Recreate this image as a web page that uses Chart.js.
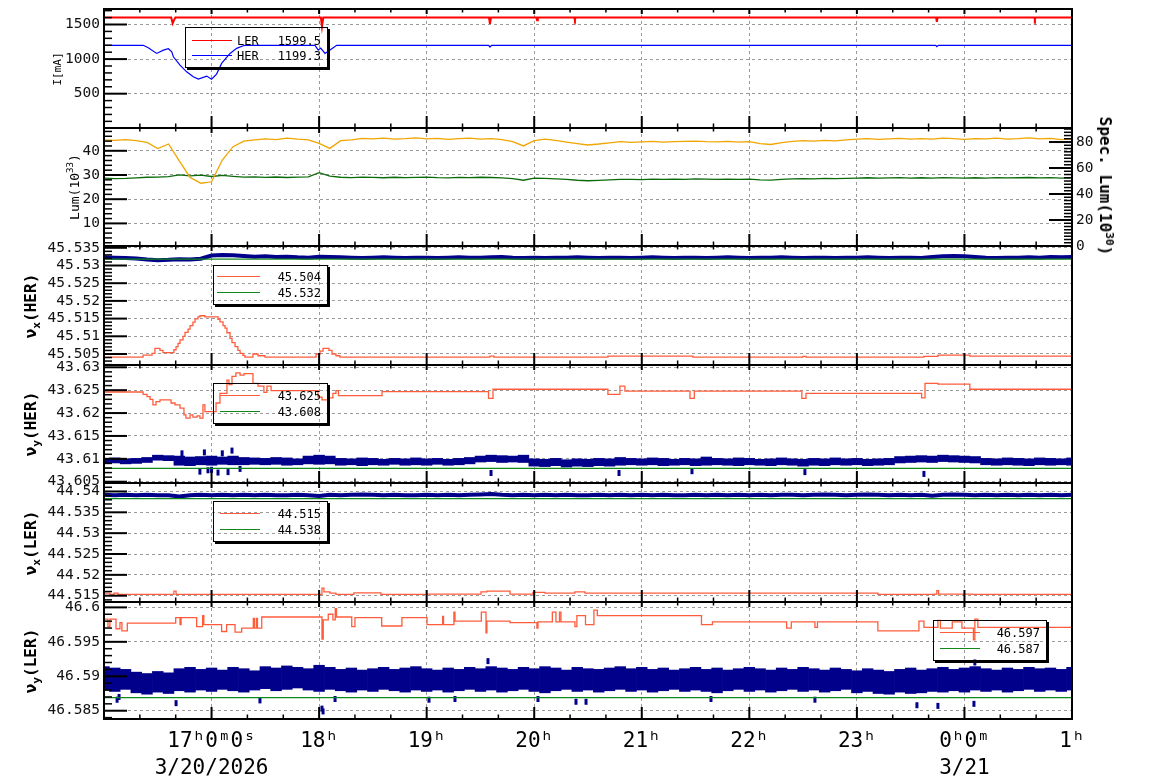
<!DOCTYPE html>
<html>
<head>
<meta charset="utf-8">
<script src="https://cdn.jsdelivr.net/npm/chart.js@4.4.1/dist/chart.umd.min.js"></script>
<style>
  body { margin: 0; background: #fff; }
  #page { position: relative; width: 1154px; height: 782px; overflow: hidden; font-family: 'DejaVu Sans Mono', monospace; }
  canvas { position: absolute; left: 0; }
  .ttl { position: absolute; white-space: nowrap; line-height: 1; color: #000; transform: translate(-50%, -50%) rotate(-90deg); }
  .ttl.b { font-weight: bold; font-size: 16px; }
  .ttl.r { transform: translate(-50%, -50%) rotate(90deg); }
  sup, sub { font-size: 70%; line-height: 0; }
  .leg { position: absolute; box-sizing: border-box; border: 1px solid #000; box-shadow: 2px 2px 0 #000; font-size: 12px; color: #000; }
  .leg i { position: absolute; height: 0; border-top-width: 1px; border-top-style: solid; }
  .leg span { position: absolute; line-height: 14px; margin-top: -7px; white-space: nowrap; }
</style>
</head>
<body>
<div id="page">
  <div id="plots"></div>

  <div class="ttl" style="left:57px;top:68.5px;font-size:11px">I[mA]</div>
  <div class="ttl" style="left:74px;top:187px;font-size:13px">Lum(10<sup>33</sup>)</div>
  <div class="ttl r b" style="left:1105px;top:186px">Spec. Lum(10<sup>30</sup>)</div>
  <div class="ttl b" style="left:31px;top:305.5px">ν<sub>x</sub>(HER)</div>
  <div class="ttl b" style="left:31px;top:424px">ν<sub>y</sub>(HER)</div>
  <div class="ttl b" style="left:31px;top:542.5px">ν<sub>x</sub>(LER)</div>
  <div class="ttl b" style="left:31px;top:660.5px">ν<sub>y</sub>(LER)</div>

  <div class="leg" style="left:185px;top:27px;width:143px;height:41px">
    <i style="left:6px;width:40px;top:12px;border-top-color:#ff0000"></i>
    <span style="left:51px;top:13px">LER</span><span style="right:6px;top:13px">1599.5</span>
    <i style="left:6px;width:40px;top:27px;border-top-color:#0000ff"></i>
    <span style="left:51px;top:28px">HER</span><span style="right:6px;top:28px">1199.3</span>
  </div>
  <div class="leg" style="left:213px;top:265px;width:115px;height:40px">
    <i style="left:3px;width:43px;top:10px;border-top-color:#ff5c3c"></i><span style="right:6px;top:11px">45.504</span>
    <i style="left:3px;width:43px;top:26px;border-top-color:#12881a"></i><span style="right:6px;top:27px">45.532</span>
  </div>
  <div class="leg" style="left:213px;top:383px;width:115px;height:41px">
    <i style="left:6px;width:40px;top:11px;border-top-color:#ff5c3c"></i><span style="right:6px;top:12px">43.625</span>
    <i style="left:6px;width:40px;top:27px;border-top-color:#12881a"></i><span style="right:6px;top:28px">43.608</span>
  </div>
  <div class="leg" style="left:213px;top:501px;width:115px;height:41px">
    <i style="left:6px;width:40px;top:11px;border-top-color:#ff5c3c"></i><span style="right:6px;top:12px">44.515</span>
    <i style="left:6px;width:40px;top:27px;border-top-color:#12881a"></i><span style="right:6px;top:28px">44.538</span>
  </div>
  <div class="leg" style="left:933px;top:620px;width:114px;height:41px">
    <i style="left:6px;width:40px;top:11px;border-top-color:#ff5c3c"></i><span style="right:6px;top:12px">46.597</span>
    <i style="left:6px;width:40px;top:27px;border-top-color:#12881a"></i><span style="right:6px;top:28px">46.587</span>
  </div>
</div>

<script>
// time in minutes since 16:00 on 3/20/2026
const minutes = [0,6,12,18,24,30,36,42,48,54,60,66,72,78,84,90,96,102,108,114,120,126,132,138,144,150,156,162,168,174,180,186,192,198,204,210,216,222,228,234,240,246,252,258,264,270,276,282,288,294,300,306,312,318,324,330,336,342,348,354,360,366,372,378,384,390,396,402,408,414,420,426,432,438,444,450,456,462,468,474,480,486,492,498,504,510,516,522,528,534,540];
const edgeT = [0, 540];
const xTickLabels = ['', ['17ʰ0ᵐ0ˢ', '3/20/2026'], '18ʰ', '19ʰ', '20ʰ', '21ʰ', '22ʰ', '23ʰ', ['0ʰ0ᵐ', '3/21'], '1ʰ'];

// y tick values per panel
const curTicks = [500, 1000, 1500];
const lumTicks = [10, 20, 30, 40];
const specLumTicks = [0, 20, 40, 60, 80];
const nuxHerTicks = [45.505, 45.51, 45.515, 45.52, 45.525, 45.53, 45.535];
const nuyHerTicks = [43.605, 43.61, 43.615, 43.62, 43.625, 43.63];
const nuxLerTicks = [44.515, 44.52, 44.525, 44.53, 44.535, 44.54];
const nuyLerTicks = [46.585, 46.59, 46.595, 46.6];

// beam currents [mA]
const lerCurT = [0, 37.5, 38.3, 39.0, 39.8, 121.0, 121.6, 122.3, 214.8, 215.3, 215.9, 241.2, 241.6, 242.0, 262.3, 262.7, 263.1, 464.2, 464.6, 465.0, 519.0, 519.3, 519.6, 540];
const lerCurV = [1599.5, 1599.5, 1517, 1560, 1599.5, 1599.5, 1470, 1599.5, 1599.5, 1510, 1599.5, 1599.5, 1560, 1599.5, 1599.5, 1570, 1599.5, 1599.5, 1540, 1599.5, 1599.5, 1575, 1599.5, 1599.5];
const herCurT = [0, 21.9, 24.7, 29.4, 33.1, 35.9, 37.8, 38.7, 42.4, 46.1, 49.8, 52.6, 57.3, 60.0, 62.8, 65.6, 70.3, 74.0, 77.7, 78.7, 117.7, 119.5, 120.9, 123.3, 126.1, 129.8, 214.6, 215.3, 216.2, 464.0, 464.6, 465.4, 540];
const herCurV = [1199.3, 1199.3, 1164, 1082, 1130, 1150, 1106, 1033, 913, 816, 744, 710, 754, 710, 783, 937, 1082, 1155, 1193, 1199.3, 1199.3, 1130, 1160, 1082, 1130, 1199.3, 1199.3, 1175, 1199.3, 1199.3, 1180, 1199.3, 1199.3];

// luminosity (1e33) and specific luminosity (1e30)
const lum = [44.5,44.3,44.6,44.2,43.5,40.9,42.8,35.8,29.0,26.6, 27.2,36.2,41.7,44.0,44.5,44.9,44.6,45.2,44.8,44.5, 43.1,41.0,44.2,44.5,45.1,44.9,45.2,44.8,45.0,45.3, 44.9,45.1,44.7,45.0,45.2,44.8,45.0,44.6,43.8,42.0, 44.2,44.8,44.3,43.6,43.0,42.4,42.8,43.3,43.8,43.5, 43.7,43.9,43.6,43.8,43.9,44.0,43.8,43.7,43.9,43.6, 43.8,43.0,42.6,43.4,43.9,44.2,44.0,44.3,44.1,44.5, 44.8,45.0,44.7,44.9,45.1,44.8,45.0,44.8,45.2,45.0, 44.7,45.0,44.9,45.2,44.8,45.0,45.3,44.9,45.1,44.6,44.9];
const specLum = [52.2,51.8,52.0,52.4,52.9,53.0,53.4,54.8,54.0,54.6, 53.5,54.3,53.6,53.0,53.2,52.8,53.1,52.7,53.0,53.2, 56.5,53.8,52.9,52.6,53.0,52.8,52.5,52.9,52.6,52.8, 53.0,52.6,52.4,52.8,52.6,52.9,52.7,52.4,51.8,50.6, 52.3,52.0,51.6,51.2,50.6,50.2,50.5,50.9,51.3,51.2, 51.0,51.4,51.2,51.5,51.3,51.6,51.4,51.2,51.5,51.3, 51.4,50.9,50.7,51.2,51.6,51.8,51.6,52.0,51.8,52.1, 52.3,52.5,52.2,52.4,52.6,52.3,52.5,52.2,52.6,52.4, 52.2,52.5,52.3,52.6,52.4,52.5,52.7,52.4,52.6,52.3,52.5];

// HER horizontal tune
const nuxHerMeas = [45.5323,45.5322,45.5321,45.5320,45.5317,45.5315,45.5316,45.5318,45.5317,45.5319, 45.5328,45.5330,45.5329,45.5327,45.5325,45.5326,45.5324,45.5325,45.5323,45.5322, 45.5325,45.5324,45.5323,45.5322,45.5321,45.5322,45.5323,45.5322,45.5321,45.5322, 45.5322,45.5321,45.5322,45.5323,45.5322,45.5322,45.5323,45.5324,45.5322,45.5321, 45.5322,45.5321,45.5322,45.5322,45.5323,45.5322,45.5321,45.5322,45.5322,45.5321, 45.5322,45.5323,45.5322,45.5321,45.5322,45.5322,45.5321,45.5322,45.5323,45.5322, 45.5321,45.5322,45.5322,45.5323,45.5322,45.5321,45.5322,45.5322,45.5321,45.5322, 45.5322,45.5323,45.5322,45.5321,45.5322,45.5322,45.5321,45.5324,45.5326,45.5327, 45.5326,45.5324,45.5322,45.5321,45.5322,45.5322,45.5323,45.5322,45.5324,45.5323,45.5324];
const nuxHerRef = [45.5318, 45.5318];
const nuxHerSetT = [0,21.8,26.8,28.4,31.2,32.9, 39.0,40.2,41.3,42.4,44.1, 45.2,46.9,48.0,49.6,50.8, 52.4,53.5,56.3,63.6,64.7, 66.4,67.5,68.6,70.3,71.4, 73.1,74.7,75.9,77.5,78.6, 83.1,85.9,89.8,118.3,120.5, 122.2,125.5,127.2,129.4,131.6, 215.3,217.5,281.1,328.5,389.9, 391.6,457.4,465.2,483.0,540];
const nuxHerSetV = [45.5041,45.5047,45.5052,45.5066,45.5060,45.5054, 45.5062,45.5071,45.5080,45.5090,45.5100, 45.5111,45.5120,45.5130,45.5140,45.5149, 45.5155,45.5158,45.5155,45.5148,45.5141, 45.5130,45.5123,45.5110,45.5094,45.5082, 45.5071,45.5060,45.5052,45.5046,45.5041, 45.5050,45.5045,45.5041,45.5050,45.5058, 45.5066,45.5060,45.5050,45.5045,45.5041, 45.5044,45.5041,45.5044,45.5041,45.5043, 45.5041,45.5043,45.5047,45.5044,45.5044];

// HER vertical tune
const nuyHerLo = [43.6090,43.6091,43.6089,43.6090,43.6092,43.6097,43.6096,43.6086,43.6085,43.6087, 43.6086,43.6088,43.6087,43.6087,43.6088,43.6087,43.6088,43.6086,43.6087,43.6089, 43.6088,43.6089,43.6086,43.6087,43.6085,43.6087,43.6086,43.6088,43.6086,43.6087, 43.6086,43.6088,43.6086,43.6087,43.6089,43.6093,43.6094,43.6092,43.6093,43.6092, 43.6084,43.6083,43.6085,43.6082,43.6084,43.6083,43.6085,43.6084,43.6086,43.6087, 43.6086,43.6087,43.6085,43.6086,43.6087,43.6085,43.6086,43.6087,43.6086,43.6085, 43.6087,43.6086,43.6085,43.6087,43.6086,43.6084,43.6086,43.6085,43.6087,43.6086, 43.6087,43.6085,43.6086,43.6087,43.6091,43.6092,43.6093,43.6092,43.6094,43.6093, 43.6092,43.6091,43.6087,43.6086,43.6087,43.6086,43.6085,43.6087,43.6086,43.6087,43.6086];
const nuyHerHi = [43.6101,43.6102,43.6100,43.6101,43.6103,43.6108,43.6107,43.6106,43.6104,43.6105, 43.6106,43.6104,43.6106,43.6103,43.6102,43.6101,43.6103,43.6102,43.6100,43.6106, 43.6108,43.6106,43.6101,43.6100,43.6102,43.6101,43.6099,43.6101,43.6100,43.6102, 43.6100,43.6101,43.6099,43.6101,43.6103,43.6106,43.6108,43.6107,43.6106,43.6108, 43.6100,43.6099,43.6101,43.6098,43.6100,43.6099,43.6101,43.6100,43.6103,43.6101, 43.6100,43.6102,43.6101,43.6099,43.6101,43.6100,43.6104,43.6101,43.6100,43.6102, 43.6101,43.6099,43.6100,43.6102,43.6100,43.6099,43.6101,43.6100,43.6102,43.6100, 43.6101,43.6099,43.6100,43.6101,43.6105,43.6106,43.6107,43.6106,43.6108,43.6107, 43.6106,43.6105,43.6101,43.6100,43.6102,43.6101,43.6100,43.6102,43.6101,43.6100,43.6102];
const nuyHerOutT = [43.5, 53.5, 56.0, 58.0, 60.0, 63.6, 66.0, 69.2, 71.4, 75.9, 215.9, 287.3, 328.0, 391.0, 457.4];
const nuyHerOutV = [43.6112, 43.6072, 43.6114, 43.6075, 43.6076, 43.6070, 43.6112, 43.6071, 43.6118, 43.6078, 43.6069, 43.6069, 43.6073, 43.6071, 43.6067];
const nuyHerRef = [43.6079, 43.6079];
const nuyHerSetT = [0,21.8,24.0,25.7,27.3, 29.0,31.2,37.4,39.6,42.4, 44.6,45.7,48.0,49.6,51.9, 53.5,55.2,56.3,62.5,64.7, 68.6,69.7,71.4,73.6,75.9, 78.1,83.1,85.9,89.2,90.9, 93.2,119.4,121.6,125.5,127.7, 129.4,130.8,155.1,214.5,217.0, 281.1,287.8,290.6,326.9,329.3, 389.3,391.6,456.1,458.0,465.2, 483.0,540];
const nuyHerSetV = [43.6246,43.6241,43.6236,43.6230,43.6218, 43.6225,43.6229,43.6222,43.6218,43.6211, 43.6196,43.6189,43.6196,43.6191,43.6194, 43.6189,43.6218,43.6203,43.6222,43.6243, 43.6272,43.6262,43.6280,43.6288,43.6283, 43.6286,43.6265,43.6259,43.6245,43.6259, 43.6249,43.6235,43.6229,43.6233,43.6243, 43.6249,43.6238,43.6247,43.6232,43.6252, 43.6241,43.6259,43.6248,43.6232,43.6248, 43.6232,43.6243,43.6233,43.6265,43.6263, 43.6252,43.6252];

// LER horizontal tune
const nuxLerMeas = [44.5392,44.5391,44.5392,44.5391,44.5392,44.5391,44.5391,44.5388,44.5391,44.5392, 44.5391,44.5392,44.5391,44.5392,44.5391,44.5392,44.5391,44.5391,44.5392,44.5391, 44.5389,44.5392,44.5391,44.5392,44.5393,44.5392,44.5391,44.5392,44.5391,44.5391, 44.5392,44.5391,44.5392,44.5391,44.5392,44.5393,44.5394,44.5392,44.5391,44.5392, 44.5391,44.5392,44.5391,44.5392,44.5391,44.5391,44.5392,44.5391,44.5392,44.5391, 44.5392,44.5391,44.5392,44.5391,44.5391,44.5392,44.5391,44.5392,44.5391,44.5392, 44.5391,44.5392,44.5391,44.5392,44.5392,44.5391,44.5392,44.5393,44.5392,44.5391, 44.5392,44.5393,44.5392,44.5391,44.5392,44.5391,44.5392,44.5390,44.5392,44.5393, 44.5392,44.5391,44.5392,44.5391,44.5392,44.5391,44.5392,44.5391,44.5392,44.5391,44.5392];
const nuxLerRef = [44.5383, 44.5383];
const nuxLerSetT = [0,3.3,5.6,7.8,39.0, 40.2,121.6,122.7,126.0,129.4, 139.4,154.5,180.2,210.3,213.6, 226.5,239.3,246.0,262.7,268.3, 431.7,463.5,464.6,465.6,484.2, 540];
const nuxLerSetV = [44.5156,44.5153,44.5156,44.5153,44.5161, 44.5153,44.5168,44.5159,44.5156,44.5153, 44.5157,44.5153,44.5154,44.5159,44.5161, 44.5154,44.5158,44.5156,44.5159,44.5156, 44.5153,44.5154,44.5162,44.5154,44.5153, 44.5153];

// LER vertical tune
const nuyLerLo = [46.5880,46.5878,46.5881,46.5876,46.5874,46.5877,46.5875,46.5879,46.5877,46.5880, 46.5878,46.5881,46.5879,46.5877,46.5880,46.5882,46.5879,46.5881,46.5883,46.5880, 46.5878,46.5881,46.5879,46.5877,46.5880,46.5878,46.5881,46.5879,46.5877,46.5880, 46.5878,46.5880,46.5877,46.5879,46.5881,46.5878,46.5880,46.5877,46.5879,46.5881, 46.5878,46.5876,46.5879,46.5881,46.5878,46.5880,46.5877,46.5879,46.5881,46.5878, 46.5880,46.5877,46.5879,46.5881,46.5878,46.5880,46.5878,46.5876,46.5879,46.5881, 46.5878,46.5880,46.5877,46.5879,46.5881,46.5878,46.5880,46.5877,46.5879,46.5881, 46.5876,46.5878,46.5875,46.5874,46.5877,46.5875,46.5876,46.5878,46.5877,46.5879, 46.5877,46.5880,46.5878,46.5880,46.5877,46.5879,46.5881,46.5878,46.5880,46.5878,46.5880];
const nuyLerHi = [46.5914,46.5912,46.5910,46.5906,46.5904,46.5907,46.5905,46.5911,46.5913,46.5910, 46.5912,46.5909,46.5913,46.5911,46.5908,46.5914,46.5912,46.5915,46.5913,46.5911, 46.5916,46.5913,46.5910,46.5912,46.5909,46.5911,46.5913,46.5910,46.5912,46.5914, 46.5911,46.5909,46.5912,46.5910,46.5913,46.5911,46.5914,46.5912,46.5910,46.5913, 46.5911,46.5914,46.5912,46.5909,46.5913,46.5911,46.5910,46.5912,46.5914,46.5911, 46.5913,46.5910,46.5912,46.5909,46.5911,46.5913,46.5910,46.5912,46.5909,46.5911, 46.5913,46.5911,46.5909,46.5912,46.5910,46.5913,46.5911,46.5909,46.5912,46.5910, 46.5908,46.5911,46.5909,46.5907,46.5910,46.5912,46.5909,46.5911,46.5913,46.5910, 46.5912,46.5914,46.5911,46.5909,46.5912,46.5910,46.5913,46.5911,46.5912,46.5910,46.5913];
const nuyLerOutT = [7.3, 8.4, 40.2, 87.0, 121.6, 122.2, 128.9, 181.3, 195.8, 214.2, 242.1, 263.3, 268.9, 338.6, 396.6, 453.5, 465.2, 485.3, 485.8];
const nuyLerOutV = [46.5866, 46.5870, 46.5861, 46.5865, 46.5853, 46.5849, 46.5867, 46.5866, 46.5867, 46.5922, 46.5867, 46.5863, 46.5863, 46.5867, 46.5866, 46.5858, 46.5857, 46.5860, 46.5920];
const nuyLerRef = [46.5869, 46.5869];
const nuyLerSetT = [0,2.2,3.3,6.7,8.9, 10.0,13.0,40.0,42.4,43.0, 51.7,55.0,55.7,65.6,68.4, 73.1,76.8,83.3,83.9,85.0, 85.6,88.0,121.6,122.3,125.1, 127.7,129.0,129.7,138.2,140.0, 154.9,166.2,180.2,188.9,189.4, 195.2,195.8,210.5,213.1,213.6, 226.5,241.5,242.1,250.1,252.1, 254.1,254.9,262.7,263.8,268.6, 273.3,275.2,333.3,339.4,380.8, 383.4,396.6,398.0,431.7,454.6, 457.4,465.2,466.6,473.2,478.6, 485.0,485.8,487.5,540];
const nuyLerSetV = [46.5983,46.5972,46.5983,46.5969,46.5978, 46.5966,46.5977,46.5985,46.5975,46.5985, 46.5972,46.5988,46.5975,46.5965,46.5975, 46.5964,46.5970,46.5984,46.5970,46.5984, 46.5970,46.5986,46.5954,46.5982,46.5990, 46.5982,46.5998,46.5986,46.5972,46.5985, 46.5973,46.5985,46.5975,46.5987,46.5975, 46.5993,46.5980,46.5993,46.5963,46.5980, 46.5978,46.5970,46.5979,46.5993,46.5979, 46.5993,46.5979,46.5972,46.5988,46.5975, 46.5996,46.5988,46.5975,46.5979,46.5970, 46.5979,46.5971,46.5979,46.5966,46.5980, 46.5971,46.5981,46.5970,46.5979,46.5970, 46.5953,46.5983,46.5971,46.5971];

// ---- drawing ----
const RED = '#ff0000', BLUE = '#0000ff', ORANGE = '#f0a500', DKGREEN = '#0b6b0b';
const SET = '#ff5c3c', REF = '#12881a', MEAS = '#00008b';
const GRID = '#9a9a9a';
const edges = [9, 128, 246, 365, 483, 602, 719];

Chart.defaults.font.family = "'DejaVu Sans Mono', monospace";
Chart.defaults.color = '#111';

const pts = (xs, ys) => xs.map((x, i) => ({ x: x, y: ys[i] }));
const bars = (xs, lo, hi) => xs.map((x, i) => ({ x: x, y: [lo[i], hi[i]] }));

function line(data, color, width, extra) {
  return Object.assign({ type: 'line', data: data, borderColor: color, borderWidth: width, pointRadius: 0, tension: 0, fill: false }, extra || {});
}
function band(data) {
  return { type: 'bar', data: data, backgroundColor: MEAS, borderWidth: 0, barPercentage: 1, categoryPercentage: 1, grouped: false, order: 4 };
}
function dots(data) {
  return { type: 'scatter', data: data, pointStyle: 'line', pointRotation: 90, pointRadius: 3, pointBorderWidth: 3, pointBorderColor: MEAS, order: 3 };
}

function xAxis(last) {
  return {
    type: 'linear', min: 0, max: 540, offset: false,
    grid: { color: GRID, lineWidth: 1, drawTicks: false, offset: false },
    border: { display: false, dash: [3, 3] },
    ticks: last ? {
      stepSize: 60, autoSkip: false, maxRotation: 0, padding: 9, color: '#000',
      font: { size: 21, lineHeight: 1.3 },
      callback: v => xTickLabels[Math.round(v / 60)]
    } : { display: false, stepSize: 60 },
    afterFit: s => { s.height = last ? 63 : 0; }
  };
}
function yAxis(min, max, tickValues, extra) {
  return Object.assign({
    type: 'linear', position: 'left', min: min, max: max,
    grid: { color: GRID, lineWidth: 1, drawTicks: false },
    border: { display: false, dash: [3, 3] },
    ticks: { padding: 4, color: '#111', font: { size: 14.5 }, autoSkip: false,
      callback: v => String(+v.toFixed(4)) },
    afterBuildTicks: s => { s.ticks = tickValues.map(v => ({ value: v })); },
    afterFit: s => { s.width = 104; }
  }, extra || {});
}

// ROOT-like frame with ticks pointing inwards
const rootFrame = {
  id: 'rootFrame',
  afterDraw(chart, args, opts) {
    const { ctx, chartArea: a, scales } = chart;
    ctx.save();
    ctx.strokeStyle = '#000';
    const xs = scales.x;
    for (let m = 0; m <= 540; m += 20) {
      const px = xs.getPixelForValue(m);
      const major = m % 60 === 0;
      ctx.lineWidth = major ? 2 : 1.5;
      ctx.beginPath();
      ctx.moveTo(px, a.bottom); ctx.lineTo(px, a.bottom - (major ? 12 : 4.5));
      ctx.moveTo(px, a.top); ctx.lineTo(px, a.top + (major ? 5 : 3.5));
      ctx.stroke();
    }
    const minor = opts.minor || {};
    Object.keys(minor).forEach(id => {
      const s = scales[id];
      const step = minor[id][0], div = minor[id][1];
      const sub = step / div;
      const left = s.position === 'left';
      const x0 = left ? a.left : a.right;
      const dir = left ? 1 : -1;
      const i0 = Math.ceil(s.min / sub - 1e-6), i1 = Math.floor(s.max / sub + 1e-6);
      for (let i = i0; i <= i1; i++) {
        const py = s.getPixelForValue(i * sub);
        const major = i % div === 0;
        ctx.lineWidth = major ? 2 : 1.5;
        ctx.beginPath();
        ctx.moveTo(x0, py); ctx.lineTo(x0 + dir * (major ? 23 : 8), py);
        ctx.stroke();
      }
    });
    ctx.lineWidth = 2;
    ctx.strokeRect(a.left, a.top, a.right - a.left, a.bottom - a.top);
    ctx.restore();
  }
};

function panel(i, datasets, scales, minor, rightPad) {
  const last = i === 5;
  const top = edges[i] - 14;
  const bottom = last ? 782 : edges[i + 1] + 14;
  const c = document.createElement('canvas');
  c.width = 1154; c.height = bottom - top;
  c.style.top = top + 'px';
  c.style.width = '1154px'; c.style.height = (bottom - top) + 'px';
  document.getElementById('plots').appendChild(c);
  scales.x = xAxis(last);
  new Chart(c, {
    type: 'line',
    data: { datasets: datasets },
    options: {
      responsive: false, animation: false, events: [],
      layout: { padding: { left: 0, right: rightPad, top: 14, bottom: last ? 0 : 14 } },
      scales: scales,
      plugins: { legend: { display: false }, tooltip: { enabled: false }, rootFrame: { minor: minor } }
    },
    plugins: [rootFrame]
  });
}

// 1: beam currents
panel(0, [
  line(pts(lerCurT, lerCurV), RED, 2),
  line(pts(herCurT, herCurV), BLUE, 1.2)
], { y: yAxis(4, 1724, curTicks) }, { y: [500, 5] }, 82);

// 2: luminosity
panel(1, [
  line(pts(minutes, lum), ORANGE, 1.3, { yAxisID: 'y' }),
  line(pts(minutes, specLum), DKGREEN, 1.3, { yAxisID: 'y2' })
], {
  y: yAxis(0.66, 49.42, lumTicks),
  y2: yAxis(0, 90.8, specLumTicks, { position: 'right', grid: { display: false, drawTicks: false }, afterFit: s => { s.width = 82; } })
}, { y: [10, 5], y2: [20, 8] }, 0);

// 3: nu_x HER
panel(2, [
  line(pts(minutes, nuxHerMeas), MEAS, 4, { order: 4 }),
  line(pts(edgeT, nuxHerRef), REF, 1.3, { order: 2 }),
  line(pts(nuxHerSetT, nuxHerSetV), SET, 1.3, { stepped: true, order: 1 })
], { y: yAxis(45.50189, 45.53551, nuxHerTicks) }, { y: [0.005, 5] }, 82);

// 4: nu_y HER
panel(3, [
  band(bars(minutes, nuyHerLo, nuyHerHi)),
  dots(pts(nuyHerOutT, nuyHerOutV)),
  line(pts(edgeT, nuyHerRef), REF, 1.3, { order: 2 }),
  line(pts(nuyHerSetT, nuyHerSetV), SET, 1.3, { stepped: true, order: 1 })
], { y: yAxis(43.60472, 43.6305, nuyHerTicks) }, { y: [0.005, 5] }, 82);

// 5: nu_x LER
panel(4, [
  line(pts(minutes, nuxLerMeas), MEAS, 4, { order: 4 }),
  line(pts(edgeT, nuxLerRef), REF, 1.3, { order: 2 }),
  line(pts(nuxLerSetT, nuxLerSetV), SET, 1.3, { stepped: true, order: 1 })
], { y: yAxis(44.51349, 44.54203, nuxLerTicks) }, { y: [0.005, 5] }, 82);

// 6: nu_y LER
panel(5, [
  band(bars(minutes, nuyLerLo, nuyLerHi)),
  dots(pts(nuyLerOutT, nuyLerOutV)),
  line(pts(edgeT, nuyLerRef), REF, 1.3, { order: 2 }),
  line(pts(nuyLerSetT, nuyLerSetV), SET, 1.3, { stepped: true, order: 1 })
], { y: yAxis(46.5838, 46.60078, nuyLerTicks) }, { y: [0.005, 5] }, 82);
</script>
</body>
</html>
